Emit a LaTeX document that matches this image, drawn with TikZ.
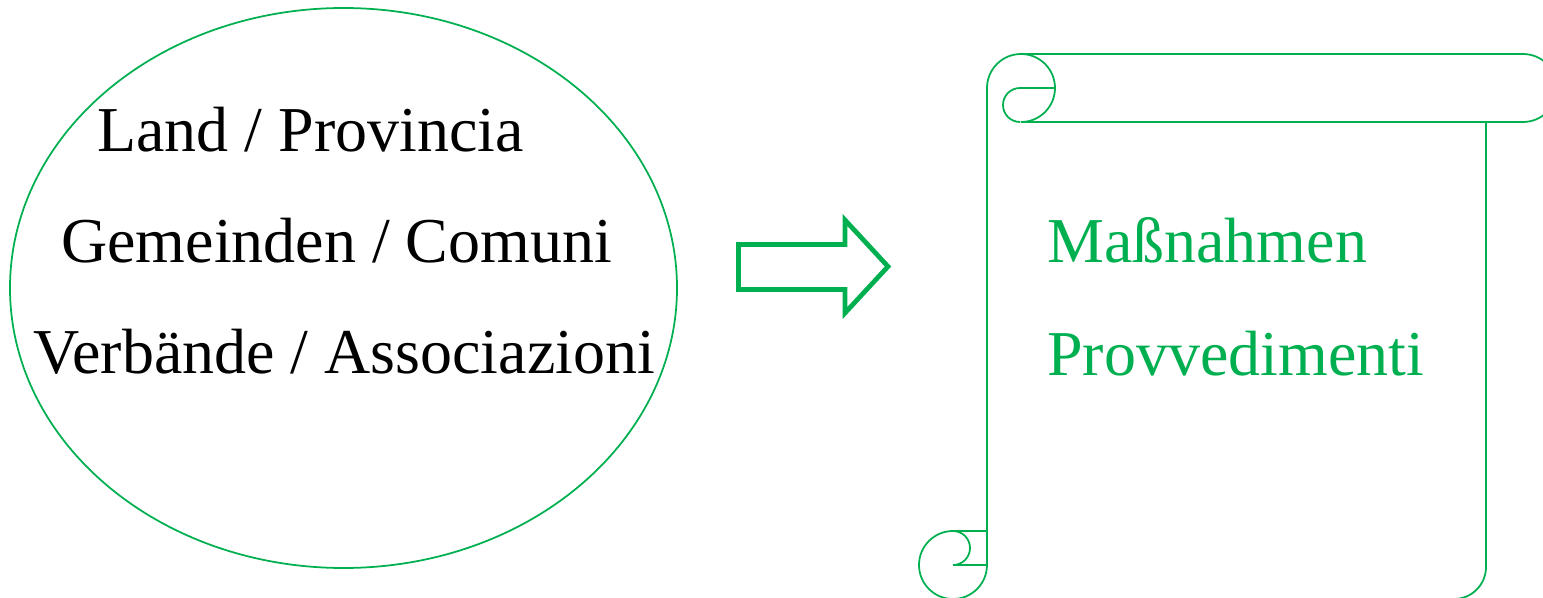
\documentclass[tikz,border=0pt]{standalone}
\usepackage{fontspec}
\setmainfont{Liberation Serif}
\definecolor{offgreen}{HTML}{00B050}
\begin{document}
\begin{tikzpicture}[x=0.02cm,y=0.02cm]
\tikzset{
  txt/.style={inner sep=0pt, anchor=base west, font=\fontsize{36.4}{42}\selectfont},
  gtxt/.style={txt, text=offgreen},
  thinline/.style={draw=offgreen, line width=1pt},
  arrowline/.style={draw=offgreen, line width=2.7pt, miter limit=10},
}
\useasboundingbox (0,0) rectangle (1543,-598);
\clip (0,0) rectangle (1543,-598);
% ellipse
\draw[thinline] (343.5,-288) ellipse [x radius=333.5, y radius=280];
\node[txt] (land) at (97,-152) {Land / Provincia};
\node[txt] (gem) at (61,-262) {Gemeinden / Comuni};
\node[txt] (verb) at (33,-373) {Verbände / Associazioni};
% block arrow
\draw[arrowline] (738.5,-244.5) -- (845,-244.5) -- (845,-220) -- (888,-266.5) -- (845,-313) -- (845,-289.5) -- (738.5,-289.5) -- cycle;
% scroll
\draw[thinline] (987,-88) -- (987,-565);
\draw[thinline] (987,-88) arc[start angle=180, end angle=-90, radius=34] -- (1523,-122)
  arc[start angle=-90, end angle=90, radius=34] -- (1020,-54);
\draw[thinline] (1054,-88) -- (1020,-88) arc[start angle=90, end angle=270, radius=17];
\draw[thinline] (1486,-122) -- (1486,-567) arc[start angle=0, end angle=-90, radius=32] -- (953,-599);
\draw[thinline] (953,-531) arc[start angle=90, end angle=360, radius=34];
\draw[thinline] (953,-531) -- (987,-531);
\draw[thinline] (953,-565) -- (987,-565);
\draw[thinline] (953,-531) arc[start angle=90, end angle=-90, radius=17];
\node[gtxt] (mass) at (1047,-262) {Maßnahmen};
\node[gtxt] (prov) at (1047,-375) {Provvedimenti};
\end{tikzpicture}
\end{document}
